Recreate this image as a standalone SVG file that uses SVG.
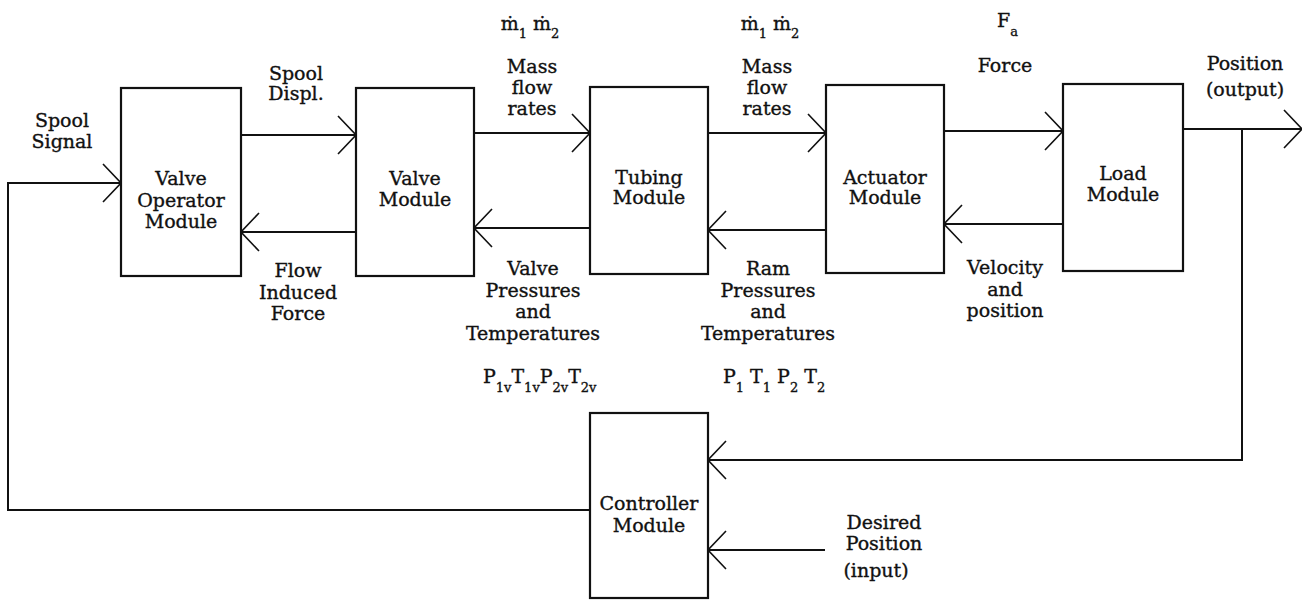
<svg xmlns="http://www.w3.org/2000/svg" width="1312" height="601" viewBox="0 0 1312 601">
<style>
text{font-family:"DejaVu Serif","Liberation Serif",serif;font-size:19px;fill:#111;stroke:#111;stroke-width:0.35;text-anchor:middle}
.s{font-size:13px}
.l{text-anchor:start}
rect{fill:#fff;stroke:#111;stroke-width:2.2}
.c path,.c line,.c polyline{fill:none;stroke:#111;stroke-width:2}
</style>
<defs>
<marker id="a" viewBox="0 0 20 40" markerWidth="20" markerHeight="40" refX="20" refY="20" markerUnits="userSpaceOnUse" orient="auto">
<path d="M2,1 L20,20 L2,39" fill="none" stroke="#111" stroke-width="1.6"/>
</marker>
</defs>
<rect width="1312" height="601" style="fill:#fff;stroke:none"/>
<g class="c" id="connectors">
<polyline points="590,510 8,510 8,183 121,183" marker-end="url(#a)"/>
<line x1="241" y1="135" x2="356" y2="135" marker-end="url(#a)"/>
<line x1="356" y1="232" x2="241" y2="232" marker-end="url(#a)"/>
<line x1="474" y1="133" x2="590" y2="133" marker-end="url(#a)"/>
<line x1="590" y1="228" x2="474" y2="228" marker-end="url(#a)"/>
<line x1="708" y1="133" x2="826" y2="133" marker-end="url(#a)"/>
<line x1="826" y1="230" x2="708" y2="230" marker-end="url(#a)"/>
<line x1="944" y1="131" x2="1063" y2="131" marker-end="url(#a)"/>
<line x1="1063" y1="224" x2="944" y2="224" marker-end="url(#a)"/>
<line x1="1183" y1="129" x2="1302" y2="129" marker-end="url(#a)"/>
<polyline points="1242,129 1242,460 708,460" marker-end="url(#a)"/>
<line x1="825" y1="550" x2="708" y2="550" marker-end="url(#a)"/>
</g>
<g id="valve-operator">
<rect x="121" y="88" width="120" height="188"/>
<text x="181" y="185">Valve</text><text x="181" y="207">Operator</text><text x="181" y="228">Module</text>
</g>
<g id="valve">
<rect x="356" y="88" width="118" height="188"/>
<text x="415" y="185">Valve</text><text x="415" y="206">Module</text>
</g>
<g id="tubing">
<rect x="590" y="87" width="118" height="187"/>
<text x="649" y="184">Tubing</text><text x="649" y="204">Module</text>
</g>
<g id="actuator">
<rect x="826" y="85" width="118" height="188"/>
<text x="885" y="184">Actuator</text><text x="885" y="204">Module</text>
</g>
<g id="load">
<rect x="1063" y="84" width="120" height="187"/>
<text x="1123" y="180">Load</text><text x="1123" y="201">Module</text>
</g>
<g id="controller">
<rect x="590" y="413" width="118" height="185"/>
<text x="649" y="510">Controller</text><text x="649" y="532">Module</text>
</g>
<g id="labels">
<text x="62" y="127">Spool</text><text x="62" y="148">Signal</text>
<text x="296" y="80">Spool</text><text x="296" y="100">Displ.</text>
<text x="298" y="277">Flow</text><text x="298" y="299">Induced</text><text x="298" y="320">Force</text>
<text x="530" y="30">ṁ<tspan class="s" dy="8">1</tspan><tspan dy="-8"> ṁ</tspan><tspan class="s" dy="8">2</tspan></text>
<text x="532" y="73">Mass</text><text x="532" y="94">flow</text><text x="532" y="115">rates</text>
<text x="533" y="275">Valve</text><text x="533" y="297">Pressures</text><text x="533" y="318">and</text><text x="533" y="340">Temperatures</text>
<text class="l" x="483" y="383">P<tspan class="s" dy="9">1v</tspan><tspan dy="-9">T</tspan><tspan class="s" dy="9">1v</tspan><tspan dy="-9">P</tspan><tspan class="s" dy="9">2v</tspan><tspan dy="-9">T</tspan><tspan class="s" dy="9">2v</tspan></text>
<text x="770" y="30">ṁ<tspan class="s" dy="8">1</tspan><tspan dy="-8"> ṁ</tspan><tspan class="s" dy="8">2</tspan></text>
<text x="767" y="73">Mass</text><text x="767" y="94">flow</text><text x="767" y="115">rates</text>
<text x="768" y="275">Ram</text><text x="768" y="297">Pressures</text><text x="768" y="318">and</text><text x="768" y="340">Temperatures</text>
<text class="l" x="723" y="383">P<tspan class="s" dy="9">1</tspan><tspan dy="-9"> T</tspan><tspan class="s" dy="9">1</tspan><tspan dy="-9"> P</tspan><tspan class="s" dy="9">2</tspan><tspan dy="-9"> T</tspan><tspan class="s" dy="9">2</tspan></text>
<text class="l" x="997" y="27">F<tspan class="s" dy="9">a</tspan></text>
<text x="1005" y="72">Force</text>
<text x="1005" y="274">Velocity</text><text x="1005" y="296">and</text><text x="1005" y="317">position</text>
<text x="1245" y="70">Position</text><text x="1245" y="96">(output)</text>
<text x="884" y="529">Desired</text><text x="884" y="550">Position</text><text x="876" y="577">(input)</text>
</g>
</svg>
